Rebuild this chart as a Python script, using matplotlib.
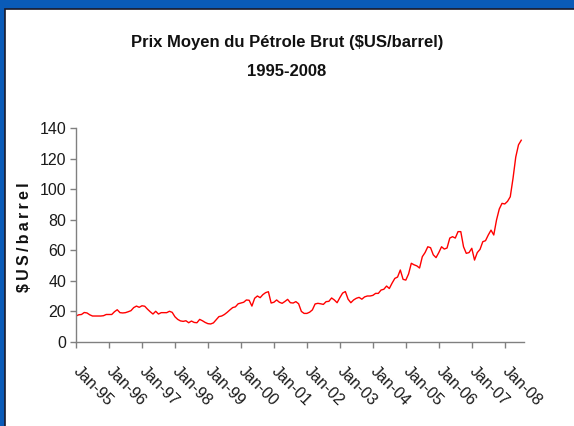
import numpy as np
import matplotlib
matplotlib.use("Agg")
import matplotlib.pyplot as plt
from matplotlib.patches import Rectangle

# ===========================
#   DONNÉES (moyenne mensuelle, jan-1995 à jul-2008)
# ===========================
prix_1995 = [17.0, 17.8, 18.0, 19.3, 19.0, 17.8, 17.0, 17.0, 17.0, 17.0, 17.2, 18.0]
prix_1996 = [18.0, 18.0, 19.8, 21.1, 19.2, 19.0, 19.2, 19.8, 20.5, 22.5, 23.5, 22.7]
prix_1997 = [23.7, 23.4, 21.5, 19.8, 18.3, 20.1, 18.3, 19.2, 19.2, 19.2, 20.1, 19.4]
prix_1998 = [16.5, 14.8, 13.8, 13.5, 13.9, 12.6, 13.7, 12.8, 12.6, 14.8, 13.9, 12.8]
prix_1999 = [12.0, 11.8, 12.5, 14.5, 16.6, 17.0, 18.0, 19.4, 21.0, 22.5, 23.0, 25.0]
prix_2000 = [25.5, 26.0, 27.5, 27.3, 23.5, 28.6, 30.1, 29.0, 31.0, 32.3, 32.9, 25.5]
prix_2001 = [26.0, 27.5, 26.0, 25.3, 26.5, 27.9, 25.7, 25.5, 26.4, 25.0, 20.0, 18.7]
prix_2002 = [18.7, 19.5, 21.0, 24.9, 25.3, 25.0, 24.6, 26.4, 26.6, 28.8, 27.5, 25.7]
prix_2003 = [29.0, 32.0, 33.0, 28.0, 25.7, 27.5, 28.6, 29.2, 28.0, 29.5, 30.1, 30.1]
prix_2004 = [30.5, 31.8, 31.8, 34.0, 34.5, 36.6, 35.0, 38.5, 41.6, 42.5, 47.1, 41.0]
prix_2005 = [40.5, 44.5, 51.5, 50.5, 49.8, 48.4, 55.8, 58.5, 62.3, 61.7, 57.0, 55.2]
prix_2006 = [58.5, 62.3, 60.8, 61.5, 68.0, 68.9, 68.0, 72.2, 72.2, 62.3, 58.0, 58.5]
prix_2007 = [61.3, 53.6, 58.5, 60.6, 65.6, 66.3, 70.0, 73.2, 70.0, 79.8, 87.0, 90.7]
prix_2008 = [90.3, 92.0, 95.0, 107.0, 121.0, 129.0, 132.0]

prix = (prix_1995 + prix_1996 + prix_1997 + prix_1998 + prix_1999 + prix_2000
        + prix_2001 + prix_2002 + prix_2003 + prix_2004 + prix_2005 + prix_2006
        + prix_2007 + prix_2008)
mois = np.arange(len(prix))

etiquettes = ["Jan-95", "Jan-96", "Jan-97", "Jan-98", "Jan-99", "Jan-00", "Jan-01",
              "Jan-02", "Jan-03", "Jan-04", "Jan-05", "Jan-06", "Jan-07", "Jan-08"]
graduations_y = [0, 20, 40, 60, 80, 100, 120, 140]

police = ["Liberation Sans", "DejaVu Sans"]
gris = "#808080"
noir = "#111111"

# ===========================
#   FIGURE
# ===========================
fig = plt.figure(figsize=(5.74, 4.26), dpi=100)
fig.patch.set_facecolor("#0A5BB8")

# panneau blanc (derrière les axes)
fig.patches.append(Rectangle((5 / 574, -0.01), 1, 1.01 - 9 / 426, transform=fig.transFigure,
                             facecolor="white", edgecolor="#1a1a2a", linewidth=1.2, zorder=-5))

ax = fig.add_axes([76 / 574, 84 / 426, 448 / 574, 214 / 426])
ax.patch.set_alpha(0)

ax.plot(mois, prix, color="#FF0000", linewidth=1.0)

ax.set_xlim(0, 163)
ax.set_ylim(0, 140)
ax.set_yticks(graduations_y)
ax.set_xticks(np.arange(0, 12 * len(etiquettes), 12))
ax.set_xticklabels(etiquettes)

for s in ["top", "right"]:
    ax.spines[s].set_visible(False)
for s in ["left", "bottom"]:
    ax.spines[s].set_color(gris)
    ax.spines[s].set_linewidth(1.0)

ax.tick_params(axis="both", color=gris, length=4, width=1.0, labelsize=11.5,
               labelcolor="#1a1a1a")
ax.tick_params(axis="x", pad=15)
ax.tick_params(axis="y", pad=3)
for lab in ax.get_yticklabels():
    lab.set_family(police)
for lab in ax.get_xticklabels():
    lab.set_family(police)
    lab.set_rotation(-45)
    lab.set_ha("left")
    lab.set_va("center")
    lab.set_rotation_mode("anchor")

# titre de l'axe y, lettres espacées comme sur l'original
fig.text(25 / 574, 1 - 237 / 426, "$ U S / b a r r e l".replace(" ", "\u2009"),
         rotation=90, ha="center", va="center", fontsize=11.5, fontweight="bold",
         family=police, color=noir)

fig.text(0.5, 1 - 42 / 426, "Prix Moyen du Pétrole Brut ($US/barrel)", ha="center", va="center",
         fontsize=12, fontweight="bold", family=police, color=noir)
fig.text(0.5, 1 - 72 / 426, "1995-2008", ha="center", va="center",
         fontsize=12, fontweight="bold", family=police, color=noir)

fig.savefig("out.png", dpi=100, facecolor=fig.get_facecolor())
